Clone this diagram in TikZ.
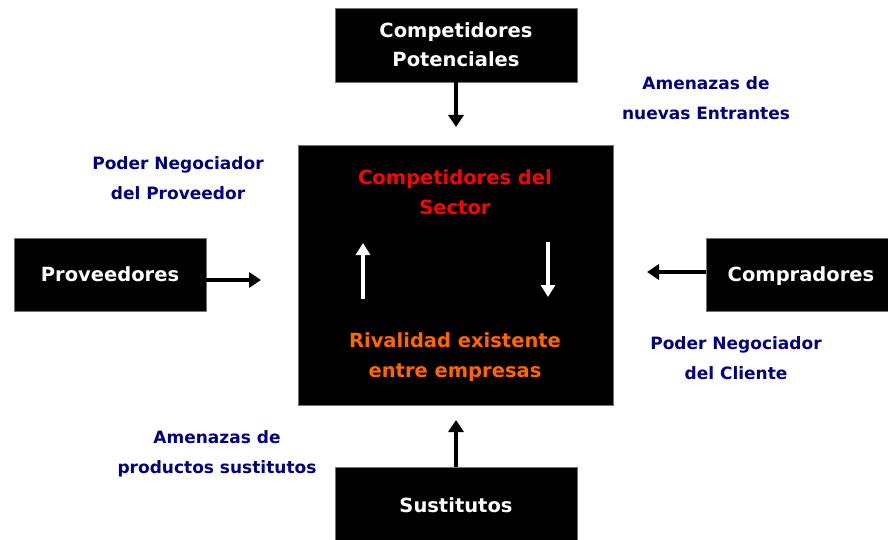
\documentclass[tikz,border=0pt]{standalone}
\usepackage{fontspec}
\setmainfont{DejaVu Sans}
\usepackage{tikz}
\usetikzlibrary{arrows.meta}
\usetikzlibrary{positioning}
\definecolor{navy}{RGB}{0,0,128}
\definecolor{sectorred}{RGB}{255,0,0}
\definecolor{rivalorange}{RGB}{255,102,0}
\tikzset{
    forcebox/.style={draw=black!55, line width=0.8pt, fill=black, text=white, align=center,
        font=\fontsize{19.5}{29}\selectfont\bfseries, inner sep=0pt},
    forcelabel/.style={text=navy, align=center, font=\fontsize{17}{29.5}\selectfont\bfseries},
    sectortext/.style={align=center, font=\fontsize{19.5}{30}\selectfont\bfseries},
    force/.style={draw=black, line width=3.4pt, -{Triangle[length=12pt,width=15pt]}},
    inner/.style={draw=white, line width=3.4pt, -{Triangle[length=12pt,width=14pt]}},
}
\begin{document}
\begin{tikzpicture}[x=1pt, y=-1pt]
	\useasboundingbox (0,0) rectangle (888,540);
	\fill[white] (0,0) rectangle (888,540);
	% the five forces
	\node[forcebox, minimum width=242pt, minimum height=74pt] (potenciales) at (456,45) {Competidores\\Potenciales};
	\node[forcebox, minimum width=315pt, minimum height=260pt] (sector) at (455.5,275) {};
	\node[forcebox, minimum width=192pt, minimum height=73pt] (proveedores) at (110,274.5) {Proveedores};
	\node[forcebox, minimum width=190pt, minimum height=73pt, anchor=west] (compradores) at (706,274.5) {};
	\node[text=white, font=\fontsize{19.5}{29}\selectfont\bfseries] (comptext) at (801,276) {Compradores};
	\node[forcebox, minimum width=242pt, minimum height=80pt, anchor=north] (sustitutos) at (456,467) {};
	\node[text=white, font=\fontsize{19.5}{29}\selectfont\bfseries] (sustext) at (456,505) {Sustitutos};
	% inside the sector box
	\node[sectortext, text=sectorred] (competidores) at (455,192) {Competidores del\\Sector};
	\node[sectortext, text=rivalorange] (rivalidad) at (455,357) {Rivalidad existente\\entre empresas};
	\coordinate (subeA) at (363,299);
	\coordinate (subeB) at (363,243);
	\coordinate (bajaA) at (548,242);
	\coordinate (bajaB) at (548,297);
	\draw[inner] (subeA) -- (subeB);
	\draw[inner] (bajaA) -- (bajaB);
	% arrows towards the sector
	\coordinate (entrada) at (456,127);
	\coordinate (oferta) at (261,280);
	\coordinate (demanda) at (647,272);
	\coordinate (sustitucion) at (456,420);
	\draw[force] (potenciales.south) -- (entrada);
	\draw[force] (proveedores.east |- oferta) -- (oferta);
	\draw[force] (compradores.west |- demanda) -- (demanda);
	\draw[force] (sustitutos.north) -- (sustitucion);
	% labels
	\node[forcelabel] (nuevas) at (706,98) {Amenazas de\\nuevas Entrantes};
	\node[forcelabel] (proveedor) at (178,178) {Poder Negociador\\del Proveedor};
	\node[forcelabel] (cliente) at (736,358) {Poder Negociador\\del Cliente};
	\node[forcelabel] (productos) at (217,454) {Amenazas de\\productos sustitutos};
\end{tikzpicture}
\end{document}
